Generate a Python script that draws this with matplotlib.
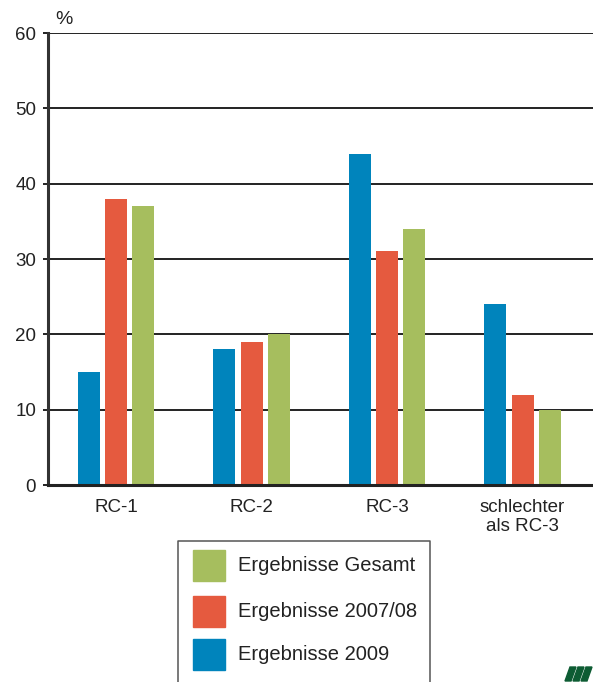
import matplotlib
matplotlib.use("Agg")
import matplotlib.pyplot as plt
from matplotlib.patches import Rectangle, Polygon
from matplotlib.lines import Line2D

# Werte in Prozent je Kategorie
categories = ["RC-1", "RC-2", "RC-3", "schlechter\nals RC-3"]
series_names = ["Ergebnisse 2009", "Ergebnisse 2007/08", "Ergebnisse Gesamt"]
values_2009 = [15, 18, 44, 24]
values_2007_08 = [38, 19, 31, 12]
values_gesamt = [37, 20, 34, 10]
y_ticks = [0, 10, 20, 30, 40, 50, 60]

colors = ["#0084BC", "#E55A3F", "#A6BE5E"]
text_color = "#222222"
line_color = "#222222"

plt.rcParams["font.family"] = ["Liberation Sans", "DejaVu Sans"]

W, H = 593, 682
fig = plt.figure(figsize=(W / 100, H / 100), dpi=100)
ax = fig.add_axes([48 / W, 197 / H, (W - 48) / W, 452 / H])

series = [values_2009, values_2007_08, values_gesamt]
offsets = [-0.2, 0.0, 0.2]
bar_w = 0.162
x = list(range(len(categories)))
for vals, off, col in zip(series, offsets, colors):
    ax.bar([i + off for i in x], vals, width=bar_w, color=col, zorder=3)

ax.set_xlim(-0.502, 3.52)
ax.set_ylim(0, 60)
ax.set_yticks(y_ticks)
ax.set_yticklabels([str(t) for t in y_ticks])
ax.set_xticks(x)
ax.set_xticklabels(categories, linespacing=1.2)

ax.yaxis.grid(True, color=line_color, linewidth=1.4, zorder=1)
ax.set_axisbelow(True)
for side in ("top", "right"):
    ax.spines[side].set_visible(False)
ax.spines["left"].set_linewidth(2.2)
ax.spines["left"].set_color("#333333")
ax.spines["bottom"].set_linewidth(2.2)
ax.spines["bottom"].set_color(line_color)
ax.spines["bottom"].set_zorder(4)

ax.tick_params(axis="y", length=3.6, width=1.4, color=line_color,
               labelsize=13.5, labelcolor=text_color, pad=5)
ax.tick_params(axis="x", length=0, labelsize=13.5, labelcolor=text_color, pad=10)
for lbl in ax.get_xticklabels():
    lbl.set_verticalalignment("top")

fig.text(64 / W, 1 - 19 / H, "%", ha="center", va="center",
         fontsize=14, color=text_color)

# Legende als offener Kasten unten
frame = Line2D([178 / W, 178 / W, 430 / W, 430 / W],
               [1 - 690 / H, 1 - 541 / H, 1 - 541 / H, 1 - 690 / H],
               transform=fig.transFigure, color="#555555", linewidth=1.1)
fig.add_artist(frame)
legend_rows = [(series_names[2], colors[2], 550),
               (series_names[1], colors[1], 596),
               (series_names[0], colors[0], 639)]
for name, col, top in legend_rows:
    fig.add_artist(Rectangle((193 / W, 1 - (top + 31) / H), 32 / W, 31 / H,
                             transform=fig.transFigure, color=col))
    fig.text(238 / W, 1 - (top + 15.5) / H, name, ha="left", va="center",
             fontsize=14.5, color=text_color)

# Logo unten rechts
for i in range(3):
    x0 = 565 + 8 * i
    pts = [(x0, 681), (x0 + 6, 681), (x0 + 11, 667), (x0 + 5, 667)]
    fig.add_artist(Polygon([(px / W, 1 - py / H) for px, py in pts],
                           closed=True, transform=fig.transFigure,
                           color="#0D5C33"))

fig.savefig("out.png", dpi=100)
